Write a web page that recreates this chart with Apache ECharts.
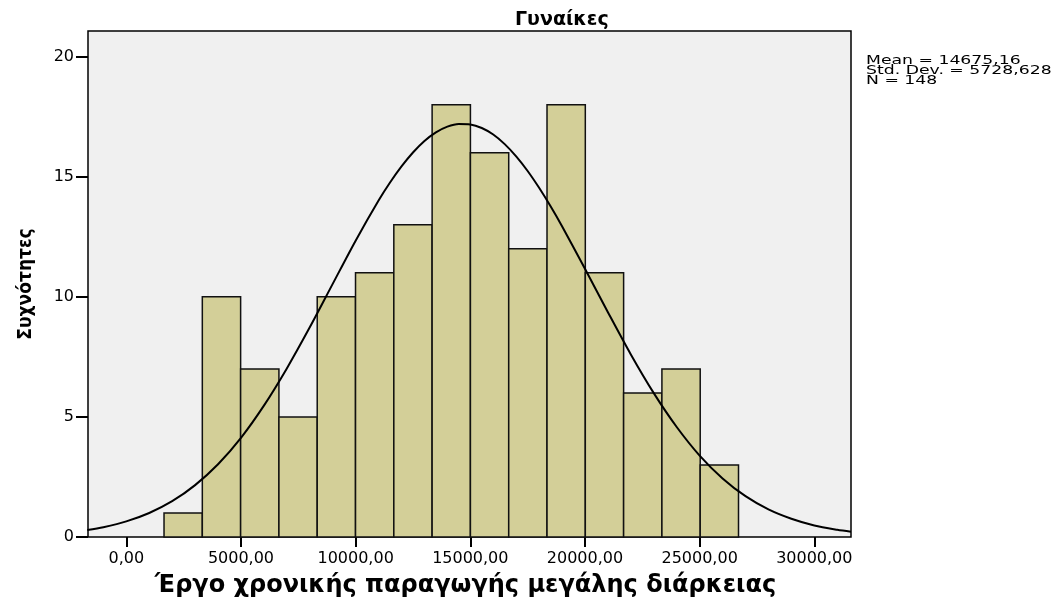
<!DOCTYPE html>
<html>
<head>
<meta charset="utf-8">
<script src="https://cdn.jsdelivr.net/npm/echarts@6/dist/echarts.min.js"></script>
<style>
html,body{margin:0;padding:0;background:#fff;}
#chart{width:1061px;height:603px;}
</style>
</head>
<body>
<div id="chart"></div>
<script>
// ---- data ----
const titleText = 'Γυναίκες';
const xAxisTitle = 'Έργο χρονικής παραγωγής μεγάλης διάρκειας';
const yAxisTitle = 'Συχνότητες';
const statsLines = ['Mean = 14675,16', 'Std. Dev. = 5728,628', 'N = 148'];

const binStart = 1645;
const binWidth = 1670;
const counts = [1, 10, 7, 5, 10, 11, 13, 18, 16, 12, 18, 11, 6, 7, 3];

const xTicks = [0, 5000, 10000, 15000, 20000, 25000, 30000];
const yTicks = [0, 5, 10, 15, 20];

// fitted normal curve
const curveX = [-1700, -1000, 0, 1000, 2000, 3000, 4000, 5000, 6000, 7000, 8000, 9000, 10000, 11000, 11500, 12000, 12500, 13000, 13500, 14000, 14500, 15000, 15500, 16000, 16500, 17000, 17500, 18000, 18500, 19000, 20000, 21000, 22000, 23000, 24000, 25000, 26000, 27000, 28000, 29000, 30000, 31000, 31600];
const curveY = [0.29, 0.41, 0.65, 1.00, 1.49, 2.16, 3.03, 4.13, 5.47, 7.02, 8.73, 10.54, 12.34, 14.01, 14.76, 15.43, 16.01, 16.49, 16.85, 17.09, 17.20, 17.18, 17.03, 16.76, 16.36, 15.85, 15.24, 14.54, 13.77, 12.94, 11.17, 9.36, 7.60, 5.99, 4.58, 3.39, 2.44, 1.70, 1.15, 0.76, 0.48, 0.30, 0.22];

// ---- build ----
const barData = counts.map((c, i) => [binStart + i * binWidth, binStart + (i + 1) * binWidth, c]);
const curveData = curveX.map((x, i) => [x, curveY[i]]);

const chart = echarts.init(document.getElementById('chart'), null, {renderer: 'canvas'});
const fmt = v => String(v) + ',00';

const option = {
  animation: false,
  backgroundColor: '#ffffff',
  title: {
    text: titleText,
    left: 510,
    top: 6,
    textStyle: {fontFamily: 'DejaVu Sans', fontWeight: 'bold', fontSize: 19, color: '#000'}
  },
  grid: {
    left: 88, right: 210, top: 31, bottom: 62,
    show: true, backgroundColor: '#F0F0F0', borderColor: '#000', borderWidth: 1.5
  },
  xAxis: {
    type: 'value',
    min: -1670, max: 31600,
    name: xAxisTitle,
    nameLocation: 'middle',
    nameGap: 37,
    nameTextStyle: {fontFamily: 'DejaVu Sans', fontWeight: 'bold', fontSize: 24, color: '#000', padding: [0, 8, 0, 0]},
    axisLine: {show: false, onZero: false},
    splitLine: {show: false},
    axisTick: {show: true, customValues: xTicks, length: 10, lineStyle: {color: '#000', width: 2}},
    axisLabel: {customValues: xTicks, formatter: fmt, margin: 14, fontFamily: 'DejaVu Sans', fontSize: 16, color: '#000'}
  },
  yAxis: {
    type: 'value',
    min: 0, max: 21.07,
    name: yAxisTitle,
    nameLocation: 'middle',
    nameRotate: 90,
    nameGap: 52,
    nameTextStyle: {fontFamily: 'DejaVu Sans Condensed', fontWeight: 'bold', fontSize: 19, color: '#000'},
    axisLine: {show: false, onZero: false},
    splitLine: {show: false},
    axisTick: {show: true, customValues: yTicks, length: 12, lineStyle: {color: '#000', width: 2}},
    axisLabel: {customValues: yTicks, margin: 14, fontFamily: 'DejaVu Sans', fontSize: 16, color: '#000'}
  },
  graphic: [{
    type: 'text',
    x: 866, y: 56,
    scaleX: 1.5,
    style: {
      text: statsLines.join('\n'),
      fontFamily: 'DejaVu Sans',
      fontSize: 11.5,
      lineHeight: 10,
      fill: '#000'
    }
  }],
  series: [{
    type: 'custom',
    data: barData,
    encode: {x: [0, 1], y: 2},
    renderItem: function (params, api) {
      const p0 = api.coord([api.value(0), 0]);
      const p1 = api.coord([api.value(1), api.value(2)]);
      return {
        type: 'rect',
        shape: {x: p0[0], y: p1[1], width: p1[0] - p0[0], height: p0[1] - p1[1]},
        style: {fill: '#D3CF98', stroke: '#111', lineWidth: 1.5}
      };
    },
    z: 2
  }, {
    type: 'line',
    data: curveData,
    smooth: 0.3,
    showSymbol: false,
    lineStyle: {color: '#000', width: 2},
    clip: true,
    z: 3
  }]
};
chart.setOption(option);
</script>
</body>
</html>
